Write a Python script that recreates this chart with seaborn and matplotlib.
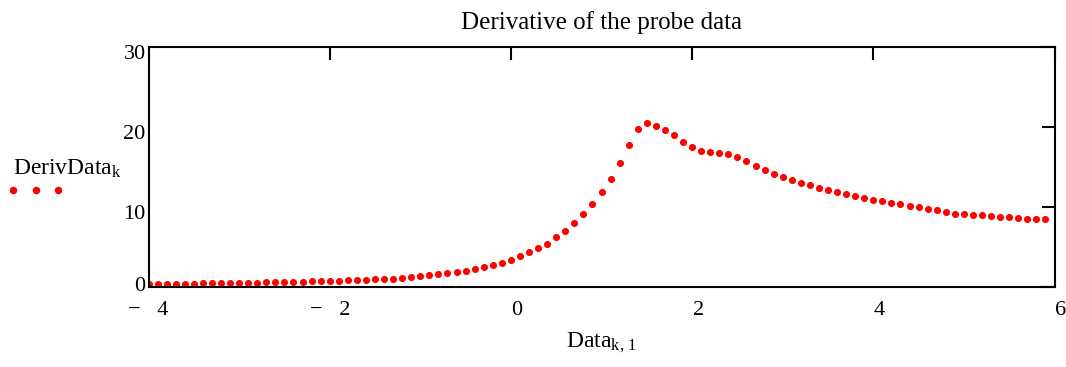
import matplotlib
matplotlib.use("Agg")
import matplotlib.pyplot as plt
import matplotlib.transforms as mtrans
from matplotlib.lines import Line2D
import seaborn as sns
import pandas as pd

# ---- data ----
x_values = [-4.0, -3.9, -3.8, -3.7, -3.6, -3.5, -3.4, -3.3, -3.2, -3.1,
            -3.0, -2.9, -2.8, -2.7, -2.6, -2.5, -2.4, -2.3, -2.2, -2.1,
            -2.0, -1.9, -1.8, -1.7, -1.6, -1.5, -1.4, -1.3, -1.2, -1.1,
            -1.0, -0.9, -0.8, -0.7, -0.6, -0.5, -0.4, -0.3, -0.2, -0.1,
            0.0, 0.1, 0.2, 0.3, 0.4, 0.5, 0.6, 0.7, 0.8, 0.9,
            1.0, 1.1, 1.2, 1.3, 1.4, 1.5, 1.6, 1.7, 1.8, 1.9,
            2.0, 2.1, 2.2, 2.3, 2.4, 2.5, 2.6, 2.7, 2.8, 2.9,
            3.0, 3.1, 3.2, 3.3, 3.4, 3.5, 3.6, 3.7, 3.8, 3.9,
            4.0, 4.1, 4.2, 4.3, 4.4, 4.5, 4.6, 4.7, 4.8, 4.9,
            5.0, 5.1, 5.2, 5.3, 5.4, 5.5, 5.6, 5.7, 5.8, 5.9]
deriv_values = [0.33, 0.34, 0.35, 0.36, 0.38, 0.39, 0.41, 0.42, 0.44, 0.46,
                0.48, 0.50, 0.52, 0.54, 0.56, 0.58, 0.61, 0.63, 0.66, 0.69,
                0.72, 0.75, 0.78, 0.82, 0.86, 0.91, 0.96, 1.02, 1.10, 1.19,
                1.29, 1.41, 1.54, 1.67, 1.80, 1.97, 2.16, 2.41, 2.70, 3.00,
                3.35, 3.79, 4.29, 4.83, 5.41, 6.21, 7.04, 8.00, 9.10, 10.38,
                11.85, 13.52, 15.52, 17.72, 19.70, 20.46, 20.12, 19.60, 19.00, 18.18,
                17.46, 17.06, 16.92, 16.75, 16.58, 16.20, 15.70, 15.17, 14.67, 14.17,
                13.75, 13.37, 13.00, 12.70, 12.42, 12.12, 11.87, 11.62, 11.37, 11.12,
                10.92, 10.71, 10.50, 10.33, 10.12, 9.96, 9.79, 9.62, 9.42, 9.17,
                9.12, 9.04, 8.96, 8.87, 8.79, 8.71, 8.58, 8.50, 8.46, 8.46]
x_ticks = [-4, -2, 0, 2, 4, 6]
x_tick_labels = ["\u2212\u2002 4", "\u2212\u2002 2", "0", "2", "4", "6"]
y_ticks = [0, 10, 20, 30]
y_tick_labels = ["0", "10", "20", "30"]
title_text = "Derivative of the probe data"
x_label = r"Data$_{\mathrm{k,\,1}}$"
series_label = r"DerivData$_{\mathrm{k}}$"

df = pd.DataFrame({"x": x_values, "y": deriv_values})

sns.set_style("white")
plt.rcParams["font.family"] = ["Liberation Serif", "DejaVu Serif"]
plt.rcParams["mathtext.fontset"] = "custom"
plt.rcParams["mathtext.rm"] = "Liberation Serif"
plt.rcParams["mathtext.it"] = "Liberation Serif:italic"
plt.rcParams["mathtext.bf"] = "Liberation Serif:bold"
plt.rcParams["text.color"] = "black"
plt.rcParams["axes.labelcolor"] = "black"
plt.rcParams["axes.titlecolor"] = "black"

TICK_FS = 16
LAB_FS = 17
TITLE_FS = 18
fig = plt.figure(figsize=(10.66, 3.67), dpi=100)
W, H = 1066, 367
L, R, T, B = 148.5, 1054.5, 47.3, 286.7
ax = fig.add_axes([L / W, 1 - B / H, (R - L) / W, (B - T) / H])

sns.scatterplot(data=df, x="x", y="y", color="red", s=26, linewidth=0,
                ax=ax, legend=False, zorder=3)

ax.set_xlim(-4, 6)
ax.set_ylim(0, 30)
ax.set_xticks(x_ticks)
ax.set_xticklabels(x_tick_labels)
ax.set_yticks(y_ticks)
ax.set_yticklabels(y_tick_labels)
ax.tick_params(axis="both", direction="in", length=9.5, width=1.5,
               top=True, right=True, labelsize=TICK_FS, colors="black")
ax.tick_params(axis="x", pad=10)
ax.tick_params(axis="y", pad=2)
for sp in ax.spines.values():
    sp.set_color("black")
    sp.set_linewidth(1.5)
    sp.set_zorder(4)

ax.set_xlabel(x_label, fontsize=LAB_FS, labelpad=8)
ax.set_ylabel("")
ax.set_title(title_text, fontsize=TITLE_FS, pad=13)

def px_off(dx, dy):
    return mtrans.ScaledTranslation(dx / 100.0, dy / 100.0, fig.dpi_scale_trans)

# offsets like the reference (Mathcad label placement)
for lab in ax.get_yticklabels():
    if lab.get_text() == "0":
        lab.set_transform(lab.get_transform() + px_off(0, 3))
    else:
        lab.set_transform(lab.get_transform() + px_off(0, -5))
for lab in ax.get_xticklabels():
    if not lab.get_text().startswith("\u2212"):
        lab.set_transform(lab.get_transform() + px_off(6, 0))

fig.text(13 / W, 1 - 175 / H, series_label, fontsize=LAB_FS,
         ha="left", va="baseline")
handle = Line2D([], [], marker="o", linestyle="none", color="red",
                markersize=5.4, markeredgewidth=0)
leg = fig.legend(handles=[handle], labels=[""], fontsize=LAB_FS,
                 loc="upper left", bbox_to_anchor=(6 / W, 1 - 182 / H),
                 frameon=False, numpoints=3, handlelength=2.5,
                 handletextpad=0, borderpad=0, borderaxespad=0)

fig.savefig("out.png", dpi=100)
